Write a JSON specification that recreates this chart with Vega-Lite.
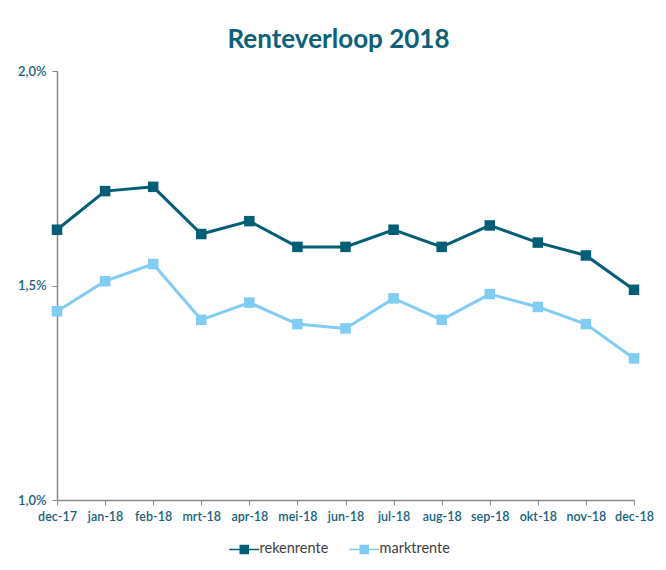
{
  "$schema": "https://vega.github.io/schema/vega-lite/v6.json",
  "width": 577,
  "height": 429,
  "autosize": {"type": "none"},
  "padding": {"left": 57, "top": 71, "right": 32, "bottom": 70},
  "background": "white",
  "config": {
    "view": {"stroke": null},
    "font": "Lato"
  },
  "title": {
    "text": "Renteverloop 2018",
    "fontSize": 26,
    "font": "Lato",
    "fontWeight": "bold",
    "color": "#0d6079",
    "anchor": "middle",
    "baseline": "alphabetic",
    "offset": -9,
    "dx": -7
  },
  "data": {
    "values": [
      {"maand": "dec-17", "serie": "rekenrente", "rente": 1.63},
      {"maand": "jan-18", "serie": "rekenrente", "rente": 1.72},
      {"maand": "feb-18", "serie": "rekenrente", "rente": 1.73},
      {"maand": "mrt-18", "serie": "rekenrente", "rente": 1.62},
      {"maand": "apr-18", "serie": "rekenrente", "rente": 1.65},
      {"maand": "mei-18", "serie": "rekenrente", "rente": 1.59},
      {"maand": "jun-18", "serie": "rekenrente", "rente": 1.59},
      {"maand": "jul-18", "serie": "rekenrente", "rente": 1.63},
      {"maand": "aug-18", "serie": "rekenrente", "rente": 1.59},
      {"maand": "sep-18", "serie": "rekenrente", "rente": 1.64},
      {"maand": "okt-18", "serie": "rekenrente", "rente": 1.60},
      {"maand": "nov-18", "serie": "rekenrente", "rente": 1.57},
      {"maand": "dec-18", "serie": "rekenrente", "rente": 1.49},
      {"maand": "dec-17", "serie": "marktrente", "rente": 1.44},
      {"maand": "jan-18", "serie": "marktrente", "rente": 1.51},
      {"maand": "feb-18", "serie": "marktrente", "rente": 1.55},
      {"maand": "mrt-18", "serie": "marktrente", "rente": 1.42},
      {"maand": "apr-18", "serie": "marktrente", "rente": 1.46},
      {"maand": "mei-18", "serie": "marktrente", "rente": 1.41},
      {"maand": "jun-18", "serie": "marktrente", "rente": 1.40},
      {"maand": "jul-18", "serie": "marktrente", "rente": 1.47},
      {"maand": "aug-18", "serie": "marktrente", "rente": 1.42},
      {"maand": "sep-18", "serie": "marktrente", "rente": 1.48},
      {"maand": "okt-18", "serie": "marktrente", "rente": 1.45},
      {"maand": "nov-18", "serie": "marktrente", "rente": 1.41},
      {"maand": "dec-18", "serie": "marktrente", "rente": 1.33}
    ]
  },
  "encoding": {
    "x": {
      "field": "maand",
      "type": "ordinal",
      "sort": null,
      "scale": {"type": "point", "padding": 0},
      "axis": {
        "title": null,
        "labelAngle": 0,
        "labelFontSize": 12.5,
        "labelFontWeight": 600,
        "labelColor": "#16627d",
        "labelPadding": 5,
        "domainColor": "#888888",
        "domainWidth": 1.5,
        "tickColor": "#888888",
        "tickSize": 5,
        "labelFlush": false
      }
    },
    "y": {
      "field": "rente",
      "type": "quantitative",
      "scale": {"domain": [1, 2]},
      "axis": {
        "title": null,
        "values": [1, 1.5, 2],
        "labelExpr": "replace(format(datum.value, '.1f'), '.', ',') + '%'",
        "labelFontSize": 13,
        "labelFontWeight": 600,
        "labelColor": "#16627d",
        "labelPadding": 6,
        "grid": false,
        "domainColor": "#888888",
        "domainWidth": 1.5,
        "tickColor": "#888888",
        "tickSize": 5
      }
    },
    "color": {
      "field": "serie",
      "type": "nominal",
      "sort": ["rekenrente", "marktrente"],
      "scale": {"domain": ["rekenrente", "marktrente"], "range": ["#005e77", "#7fccf4"]},
      "legend": {
        "title": null,
        "orient": "none",
        "direction": "horizontal",
        "legendX": 180,
        "legendY": 471,
        "symbolType": "M-3,-0.15H3V0.15H-3Z M-0.95,-0.95H0.95V0.95H-0.95Z",
        "symbolStrokeWidth": 0,
        "labelFontSize": 14.5,
        "labelColor": "#404040",
        "labelOffset": 8,
        "columnPadding": 20
      }
    }
  },
  "layer": [
    {
      "mark": {"type": "line", "strokeWidth": 3}
    },
    {
      "mark": {"type": "point", "shape": "square", "filled": true, "opacity": 1, "size": 110}
    }
  ]
}
